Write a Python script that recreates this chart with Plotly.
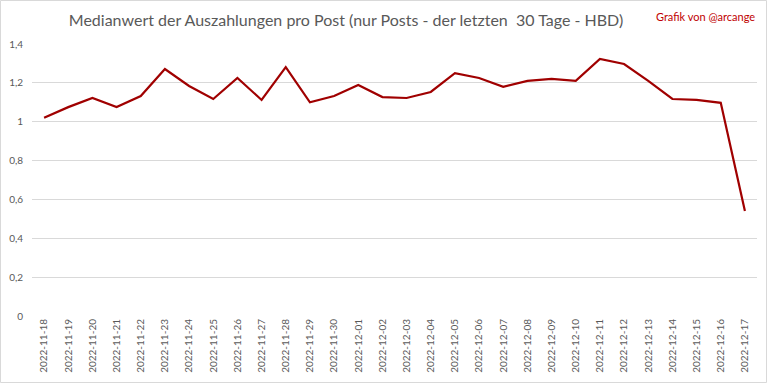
import plotly.graph_objects as go

dates = ["2022-11-18","2022-11-19","2022-11-20","2022-11-21","2022-11-22","2022-11-23",
         "2022-11-24","2022-11-25","2022-11-26","2022-11-27","2022-11-28","2022-11-29",
         "2022-11-30","2022-12-01","2022-12-02","2022-12-03","2022-12-04","2022-12-05",
         "2022-12-06","2022-12-07","2022-12-08","2022-12-09","2022-12-10","2022-12-11",
         "2022-12-12","2022-12-13","2022-12-14","2022-12-15","2022-12-16","2022-12-17"]
median_hbd = [1.02, 1.075, 1.122, 1.076, 1.132, 1.271,
              1.184, 1.117, 1.225, 1.112, 1.281, 1.10,
              1.132, 1.189, 1.127, 1.122, 1.153, 1.25,
              1.225, 1.18, 1.21, 1.22, 1.21, 1.323,
              1.297, 1.21, 1.117, 1.112, 1.097, 0.54]
y_tickvals = [0, 0.2, 0.4, 0.6, 0.8, 1.0, 1.2, 1.4]
y_ticktext = ["0", "0,2", "0,4", "0,6", "0,8", "1", "1,2", "1,4"]

W, H = 768, 384
L, R, T, B = 32, 11, 44, 68
pw, ph = W - L - R, H - T - B

font_family = "Lato, Liberation Sans, Arial"

fig = go.Figure()
fig.add_trace(go.Scatter(x=dates, y=median_hbd, mode="lines",
                         line=dict(color="#A00000", width=2.2), showlegend=False))

fig.update_layout(
    width=W, height=H,
    margin=dict(l=L, r=R, t=T, b=B, autoexpand=False),
    paper_bgcolor="white", plot_bgcolor="white",
    font=dict(family=font_family, color="#595959", size=10),
    title=dict(text="Medianwert der Auszahlungen pro Post (nur Posts - der letzten  30 Tage - HBD)",
               x=346 / W, xanchor="center", y=1 - 20 / H, yanchor="middle",
               automargin=False,
               font=dict(size=16, color="#595959", family=font_family)),
    xaxis=dict(type="category", range=[-0.5, len(dates) - 0.5], tickangle=-90,
               showgrid=False, showline=False, ticks="", zeroline=False, automargin=False,
               tickfont=dict(size=10, color="#595959")),
    yaxis=dict(range=[0, 1.4], tickvals=y_tickvals, ticktext=y_ticktext,
               showgrid=True, gridcolor="#d9d9d9", gridwidth=1, zeroline=False,
               showline=False, ticks="", ticklabelstandoff=8, automargin=False,
               tickfont=dict(size=10, color="#595959")),
    annotations=[dict(text="Grafik von @arcange", xref="paper", yref="paper",
                      x=(757 - L) / pw, y=1 + (44 - 17) / ph, xanchor="right", yanchor="middle",
                      showarrow=False, font=dict(size=11, color="#C00000", family=font_family))],
    shapes=[dict(type="rect", xref="paper", yref="paper",
                 x0=-(L - 0.5) / pw, x1=1 + (R - 1.5) / pw,
                 y0=-(B - 1.5) / ph, y1=1 + (T - 0.5) / ph,
                 line=dict(color="#d9d9d9", width=1), fillcolor="rgba(0,0,0,0)", layer="above")],
)

fig.write_html("out.html", config={"displayModeBar": False},
               post_script="document.body.style.margin='0px';document.body.style.overflow='hidden';")
